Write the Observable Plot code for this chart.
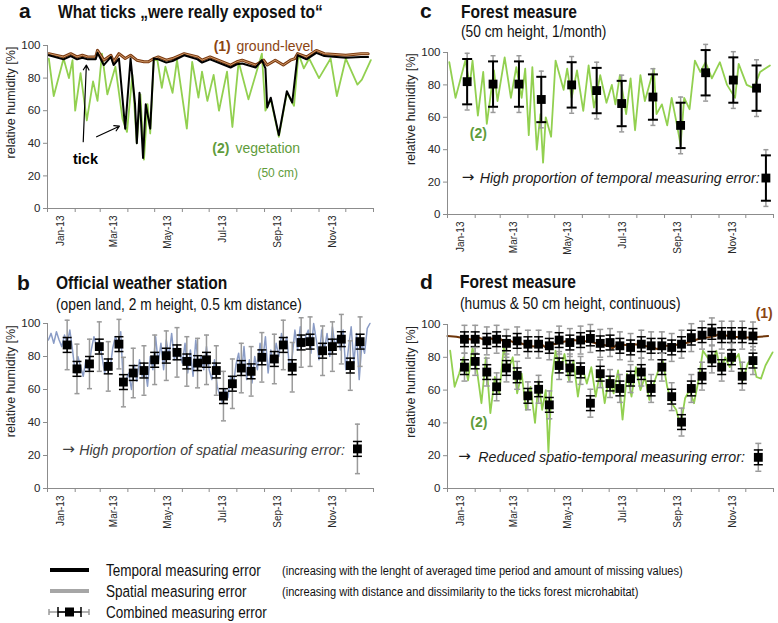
<!DOCTYPE html>
<html><head><meta charset="utf-8">
<script src="https://cdn.jsdelivr.net/npm/d3@7"></script>
<script src="https://cdn.jsdelivr.net/npm/@observablehq/plot@0.6"></script>
<style>
body{margin:0;background:#fff;}
#wrap{position:relative;width:778px;height:623px;overflow:hidden;background:#fff;}
</style></head><body><div id="wrap"></div>
<script>
const SANS = '"Liberation Sans",Arial,sans-serif';
const ARROWFONT = '"DejaVu Sans",sans-serif';
const GREEN = "#92d050", GREEN_TXT = "#5f9c3b", BROWN = "#7b3a10", BROWN_IN = "#d09a6a",
      BROWN_D = "#6e3509", BROWN_TXT = "#8b4513", BLUE = "#8a9cc6", GRAY_ERR = "#9a9a9a",
      AXIS = "#8c8c8c", TXT = "#262626";

// ---------- axis content ----------
const yTicks = [0, 20, 40, 60, 80, 100];
const xTickLabels = ["Jan-13", "Mar-13", "May-13", "Jul-13", "Sep-13", "Nov-13"];
const xTickMonths = [0, 2, 4, 6, 8, 10];
const yLabel = "relative humidity [%]";

// ---------- panel a (day of year, % RH) ----------
const vegADays = [1.5,7,18,24,28,31,37,44,51,56,61,67,76,84,89,95,100,104,108,112,115,119,123,128,132,140,145,156,162,169,173,179,186,192,201,207,214,225,240,244,250,259,268,276,281,287,293,304,317,324,334,347,352,362];
const vegAVals = [92,69,92,80,91,60,83,54,78,66,95,70,87,55,47,82,40,70,30,64,46,91,91,74,87,71,91,49,90,68,84,66,82,60,84,50,90,67,95,60,67,44,71,63,95,86,92,80,92,69,92,76,79,91];
const groundADays = [1.5,18,26,33,39,45,54,56,63,71,74,80,87,93,100,108,113,119,124,133,140,153,168,173,182,205,212,218,233,242,246,255,264,272,277,280,290,301,310,334,351,359];
const groundAVals = [95,93,95,93,94,93,93,97,91,94,90,95,92,94,91,90,90,92,93,91,92,95,93,91,93,88,90,91,88,91,88,91,88,91,92,95,93,97,95,94,95,95];
const tickADays = [1.5,18,26,33,39,45,54,56,63,71,74,80,87,93,98,100,103,107,110,115,119,124,133,140,153,168,173,182,205,212,218,233,240,244,246,250,259,268,274,280,290,301,310,334,351,359];
const tickAVals = [94,91.5,93.5,91.5,92.5,91.5,91.5,95.5,88,93,88,92,49,92,64,40,71,31,64,49,92,91.5,89.5,90.5,94,91.5,89.5,91.5,86.5,88.5,89,86.5,91,86,62,68,45,72,65,94,91.5,95.5,93.5,92.5,93,93];

// ---------- panel b ----------
const stationDays = d3.range(1, 362, 3); // sampling days of the station series
const stationVals = [
  90,94,88,95,90,86,93,88,96,84,
  70,80,74,68,78,72,84,92,86,90,
  80,70,78,72,85,92,88,95,62,66,
  70,60,75,65,78,68,74,62,80,72,
  92,76,88,72,90,80,94,78,86,82,
  76,88,70,84,68,90,74,80,72,86,
  72,66,78,62,56,52,60,55,68,62,
  75,82,68,86,66,78,64,80,72,88,
  78,92,70,84,76,88,80,94,86,92,
  72,80,96,84,98,86,92,96,82,100,
  90,78,96,84,94,80,98,86,92,84,
  96,72,85,98,76,94,66,88,82,97,100];
const stationMeanDays = [22,33,47,58,68,80,85,96,108,120,133,145,156,168,178,189,197,207,217,228,240,254,264,274,284,294,308,319,329,339,350];
const stationMeanVals = [87,72.5,75.5,86,74,87.5,64.5,70,71.5,78,80.5,82.5,77,76,78,71.5,56,63.5,73,71,79.5,78.5,87,73.5,88.5,89,83.5,86,90.5,74.5,89];
const stationErrTemporal = 4.5, stationErrSpatial = 15;
const stationExample = {day: 347, val: 24};

// ---------- panel c ----------
const vegCDays = [2,9,20,25,28,34,40,44,52,56,64,71,77,83,87,91,95,100,104,107,110,116,121,130,134,139,145,152,158,164,171,178,184,188,193,200,205,210,216,221,231,234,240,246,251,257,261,265,271,277,283,289,296,305,313,322,326,335,343,350,361];
const vegCVals = [94,72,95,80,95,61,88,56,89,70,97,72,91,72,90,49,91,40,62,32,60,48,95,77,90,72,89,64,92,66,86,69,80,68,86,62,84,52,86,70,90,62,68,55,72,55,43,72,65,95,88,94,84,94,80,72,93,80,78,88,92];
const monthlyDays = [22,51,80,105,139,167,195,230,261,289,320,346];
const monthlyVals = [82,80.5,80.5,71,80,76.5,68.5,72.5,55,87.5,83,78];
const monthlyErrTemporal = 14, monthlyErrSpatial = 17.5;
const monthlyExample = {day: 356.5, val: 22.5};

// ---------- panel d ----------
const vegDDays = [3,8,13,18,23,28,33,38,43,48,53,58,63,68,73,78,83,88,93,98,102,106,110,113,117,121,126,131,136,141,146,151,156,161,166,171,176,181,186,191,196,201,206,211,216,221,226,231,236,241,246,251,256,261,266,271,276,281,286,291,296,301,306,311,316,321,326,331,336,341,346,351,356,364];
const vegDVals = [84,62,70,80,66,86,72,52,80,46,68,58,86,72,80,58,70,48,62,40,66,48,60,22,68,84,72,82,66,78,56,74,64,74,56,72,52,68,58,72,42,70,56,74,60,68,54,64,72,78,62,52,48,38,55,60,52,66,84,80,76,84,72,80,74,78,82,66,76,80,68,67,75,83];
const humusDDays = [0,10,20,30,35,40,50,55,60,65,70,75,80,90,100,105,110,115,120,130,140,150,160,170,180,185,190,200,210,220,230,235,240,250,260,270,280,290,300,305,310,320,330,340,350,359];
const humusDVals = [93,92.5,91.5,90.5,92,91,91.5,89,91,87.5,90,89,89,87,86.5,88,86,89,88,89.5,90.5,90,89.5,88,87,85.5,88,87.5,88,87,86,85,87,87,88,89,91,92,93,94.5,93.5,92.5,92,92,92.5,93];
const contDays = [19,31,44,55,66,78,90,102,114,125,137,149,160,171,182,193,205,217,228,240,251,262,273,285,296,307,318,330,342];
const contHumusVals = [91,91,90,91,88.5,90,88,88,87,90.5,89,90.5,91.5,88.5,89,87,86,88,87,87,86,88,92,93.5,95.5,93.5,93.5,93.5,93];
const contVegVals = [74,77.5,71,62,73.5,69,56.5,60.5,51,75,73.5,72,52,70,64,61,67,71,61,74,56,40.5,61,68.5,79,74,80,68.5,78];
const contErrTemporal = 4.5, contErrSpatial = 8.5;
const contExample = {day: 348, val: 19};

// ---------- helpers ----------
const T0 = Date.UTC(2013, 0, 1);
const toDate = d => new Date(T0 + d * 864e5);
const xDomain = [new Date(T0), new Date(Date.UTC(2014, 0, 1))];
const monthEdges = d3.utcMonth.range(xDomain[0], new Date(Date.UTC(2014, 0, 2)));
const labelDates = xTickMonths.map(m => new Date(Date.UTC(2013, m, 16)));
const fmtLabel = d => xTickLabels[labelDates.findIndex(t => +t === +d)];
const series = (days, vals) => days.map((d, i) => ({x: toDate(d), y: vals[i]}));
const hcap = {draw(ctx, size) { const r = Math.sqrt(size / Math.PI); ctx.moveTo(-r, 0); ctx.lineTo(r, 0); }};

function errorMarks(data, err, color, capR, sw) {
  return [
    Plot.ruleX(data, {x: "x", y1: d => d.y - err, y2: d => d.y + err, stroke: color, strokeWidth: sw}),
    Plot.dot(data, {x: "x", y: d => d.y - err, symbol: hcap, r: capR, stroke: color, strokeWidth: sw, fill: "none"}),
    Plot.dot(data, {x: "x", y: d => d.y + err, symbol: hcap, r: capR, stroke: color, strokeWidth: sw, fill: "none"})
  ];
}
function combined(data, errT, errS, capT, capS, swT) {
  return [
    ...errorMarks(data, errS, GRAY_ERR, capS, 1.5),
    ...errorMarks(data, errT, "#000", capT, swT),
    Plot.dot(data, {x: "x", y: "y", symbol: "square", r: 5, fill: "#000"})
  ];
}
function note(day, val, text, o = {}) {
  return Plot.text([{x: toDate(day), y: val}], {x: "x", y: "y", text: () => text, textAnchor: "start", lineAnchor: "bottom",
    fontFamily: SANS, fontSize: 14, fill: TXT, ...o});
}
function arrowNote(day, val, textDay, text, color) {
  return [
    note(day, val + 0.3, "\u2192", {fontFamily: ARROWFONT, fontSize: 15, fill: color}),
    note(textDay, val, text, {fontStyle: "italic", fill: color, fontSize: 14.2})
  ];
}

const wrap = document.getElementById("wrap");
function panel(cfg, marks) {
  const svg = Plot.plot({
    width: cfg.width, height: cfg.height,
    marginTop: cfg.mt, marginBottom: cfg.mb, marginLeft: cfg.ml, marginRight: cfg.mr,
    x: {type: "utc", domain: xDomain},
    y: {domain: [0, 100]},
    style: {fontFamily: SANS, fontSize: "11px", background: "transparent", overflow: "visible", color: TXT},
    marks: [
      ...marks,
      Plot.ruleY([0], {stroke: AXIS}),
      Plot.ruleX([xDomain[0]], {stroke: AXIS}),
      Plot.axisX(monthEdges, {tickSize: 4, tickFormat: () => "", stroke: AXIS, label: null}),
      Plot.axisX(labelDates, {tickSize: 0, tickRotate: -90, tickPadding: 7, tickFormat: fmtLabel, fontSize: 10, fill: TXT, label: null}),
      Plot.axisY(yTicks, {tickSize: 4, tickPadding: 3, stroke: AXIS, fill: TXT, fontSize: 11.5, label: null}),
      Plot.text([65], {y: d => d, text: () => yLabel, frameAnchor: "left", textAnchor: "middle", lineAnchor: "middle",
        rotate: -90, dx: -37, fontSize: 12.5, fill: TXT})
    ]
  });
  svg.style.position = "absolute";
  svg.style.left = cfg.left + "px";
  svg.style.top = cfg.top + "px";
  wrap.appendChild(svg);
}

// ---------- panel a ----------
panel({left: 0, top: 0, width: 390, height: 255, mt: 45, mb: 47, ml: 47, mr: 17}, [
  Plot.line(series(vegADays, vegAVals), {x: "x", y: "y", stroke: GREEN, strokeWidth: 1.8}),
  Plot.line(series(groundADays, groundAVals), {x: "x", y: "y", stroke: BROWN, strokeWidth: 3}),
  Plot.line(series(groundADays, groundAVals), {x: "x", y: "y", stroke: BROWN_IN, strokeWidth: 1}),
  Plot.line(series(tickADays, tickAVals), {x: "x", y: "y", stroke: "#000", strokeWidth: 2}),
  Plot.arrow([{x1: 40, y1: 41, x2: 43.5, y2: 88}, {x1: 55, y1: 44, x2: 80.5, y2: 50.5}],
    {x1: d => toDate(d.x1), y1: "y1", x2: d => toDate(d.x2), y2: "y2", stroke: "#000", strokeWidth: 1.2, headLength: 7}),
  note(42.5, 27.5, "tick", {textAnchor: "middle", fontWeight: "bold", fontSize: 14.5, fill: "#000"}),
  note(186, 96.5, "(1)", {fontWeight: "bold", fill: BROWN_TXT}),
  note(211.5, 96.5, "ground-level", {fill: BROWN_TXT}),
  note(184.5, 34, "(2)", {fontWeight: "bold", fill: GREEN_TXT}),
  note(210.5, 34, "vegetation", {fill: GREEN_TXT}),
  note(235, 19.5, "(50 cm)", {fill: GREEN_TXT, fontSize: 12})
]);

// ---------- panel b ----------
panel({left: 0, top: 278, width: 390, height: 257, mt: 45, mb: 47, ml: 47, mr: 17}, [
  Plot.line(series(stationDays, stationVals), {x: "x", y: "y", stroke: BLUE, strokeWidth: 1.5}),
  ...combined(series(stationMeanDays, stationMeanVals), stationErrTemporal, stationErrSpatial, 4.5, 2.5, 1.5),
  ...combined(series([stationExample.day], [stationExample.val]), stationErrTemporal, stationErrSpatial, 4.5, 2.5, 1.5),
  ...arrowNote(16.5, 20.5, 35.5, "High proportion of spatial measuring error:", "#404040")
]);

// ---------- panel c ----------
panel({left: 400, top: 0, width: 378, height: 261, mt: 52, mb: 47, ml: 47, mr: 5}, [
  Plot.line(series(vegCDays, vegCVals), {x: "x", y: "y", stroke: GREEN, strokeWidth: 1.8}),
  ...combined(series(monthlyDays, monthlyVals), monthlyErrTemporal, monthlyErrSpatial, 5, 2.5, 2),
  ...combined(series([monthlyExample.day], [monthlyExample.val]), monthlyErrTemporal, monthlyErrSpatial, 5, 2.5, 2),
  note(25, 47.5, "(2)", {fontWeight: "bold", fill: GREEN_TXT}),
  ...arrowNote(16, 19.5, 36, "High proportion of temporal measuring error:", "#1a1a1a")
]);

// ---------- panel d ----------
panel({left: 400, top: 278, width: 378, height: 257, mt: 46, mb: 47, ml: 47, mr: 5}, [
  Plot.line(series(vegDDays, vegDVals), {x: "x", y: "y", stroke: GREEN, strokeWidth: 1.8}),
  Plot.line(series(humusDDays, humusDVals), {x: "x", y: "y", stroke: BROWN_D, strokeWidth: 2}),
  ...combined(series(contDays, contHumusVals), contErrTemporal, contErrSpatial, 4.5, 3, 1.5),
  ...combined(series(contDays, contVegVals), contErrTemporal, contErrSpatial, 4.5, 3, 1.5),
  ...combined(series([contExample.day], [contExample.val]), contErrTemporal, contErrSpatial, 4.5, 3, 1.5),
  note(25.5, 37.5, "(2)", {fontWeight: "bold", fill: GREEN_TXT}),
  note(345, 104, "(1)", {fontWeight: "bold", fill: BROWN_TXT}),
  ...arrowNote(12, 16.3, 34.5, "Reduced spatio-temporal measuring error:", "#1a1a1a")
]);

// ---------- titles & legend overlay ----------
const ov = d3.select(wrap).append("svg")
  .attr("width", 778).attr("height", 623)
  .style("position", "absolute").style("left", "0px").style("top", "0px").style("pointer-events", "none");
const SX = 0.82; // horizontal compression of the original lettering
const titles = [
  {x: 19, y: 18, t: "a", s: 21, w: "bold", k: 1},
  {x: 58, y: 18, t: "What ticks \u201Ewere really exposed to\u201C", s: 19, w: "bold", k: SX},
  {x: 17, y: 290, t: "b", s: 21, w: "bold", k: 1},
  {x: 56, y: 289, t: "Official weather station", s: 19, w: "bold", k: SX},
  {x: 56, y: 310, t: "(open land, 2 m height, 0.5 km distance)", s: 16.8, w: "normal", k: SX},
  {x: 420, y: 18, t: "c", s: 21, w: "bold", k: 1},
  {x: 461, y: 18, t: "Forest measure", s: 19, w: "bold", k: SX},
  {x: 461, y: 37, t: "(50 cm height, 1/month)", s: 16.8, w: "normal", k: SX},
  {x: 420, y: 289, t: "d", s: 21, w: "bold", k: 1},
  {x: 460, y: 288, t: "Forest measure", s: 19, w: "bold", k: SX},
  {x: 460, y: 309, t: "(humus & 50 cm height, continuous)", s: 16.8, w: "normal", k: SX},
  {x: 106, y: 576, t: "Temporal measuring error", s: 16.5, w: "normal", k: SX},
  {x: 282, y: 575, t: "(increasing with the lenght of averaged time period and amount of missing values)", s: 13.5, w: "normal", k: SX},
  {x: 106, y: 597, t: "Spatial measuring error", s: 16.5, w: "normal", k: SX},
  {x: 282, y: 596, t: "(increasing with distance and dissimilarity to the ticks forest microhabitat)", s: 13.5, w: "normal", k: SX},
  {x: 106, y: 618, t: "Combined measuring error", s: 16.5, w: "normal", k: SX}
];
ov.selectAll("text.t").data(titles).join("text")
  .attr("transform", d => `translate(${d.x},${d.y}) scale(${d.k},1)`).text(d => d.t)
  .attr("font-family", SANS).attr("font-size", d => d.s).attr("font-weight", d => d.w).attr("fill", "#111");
// legend symbols
ov.append("line").attr("x1", 50).attr("x2", 89).attr("y1", 570).attr("y2", 570).attr("stroke", "#000").attr("stroke-width", 4);
ov.append("line").attr("x1", 50).attr("x2", 89).attr("y1", 591).attr("y2", 591).attr("stroke", "#a6a6a6").attr("stroke-width", 4);
const lg = ov.append("g").attr("stroke-width", 1.5);
lg.append("line").attr("x1", 49).attr("x2", 89).attr("y1", 612).attr("y2", 612).attr("stroke", GRAY_ERR);
lg.append("line").attr("x1", 49).attr("x2", 49).attr("y1", 609).attr("y2", 615).attr("stroke", GRAY_ERR);
lg.append("line").attr("x1", 89).attr("x2", 89).attr("y1", 609).attr("y2", 615).attr("stroke", GRAY_ERR);
lg.append("line").attr("x1", 58).attr("x2", 81).attr("y1", 612).attr("y2", 612).attr("stroke", "#000");
lg.append("line").attr("x1", 58).attr("x2", 58).attr("y1", 607).attr("y2", 617).attr("stroke", "#000");
lg.append("line").attr("x1", 81).attr("x2", 81).attr("y1", 607).attr("y2", 617).attr("stroke", "#000");
lg.append("rect").attr("x", 65).attr("y", 607.5).attr("width", 9).attr("height", 9).attr("fill", "#000");
</script></body></html>
